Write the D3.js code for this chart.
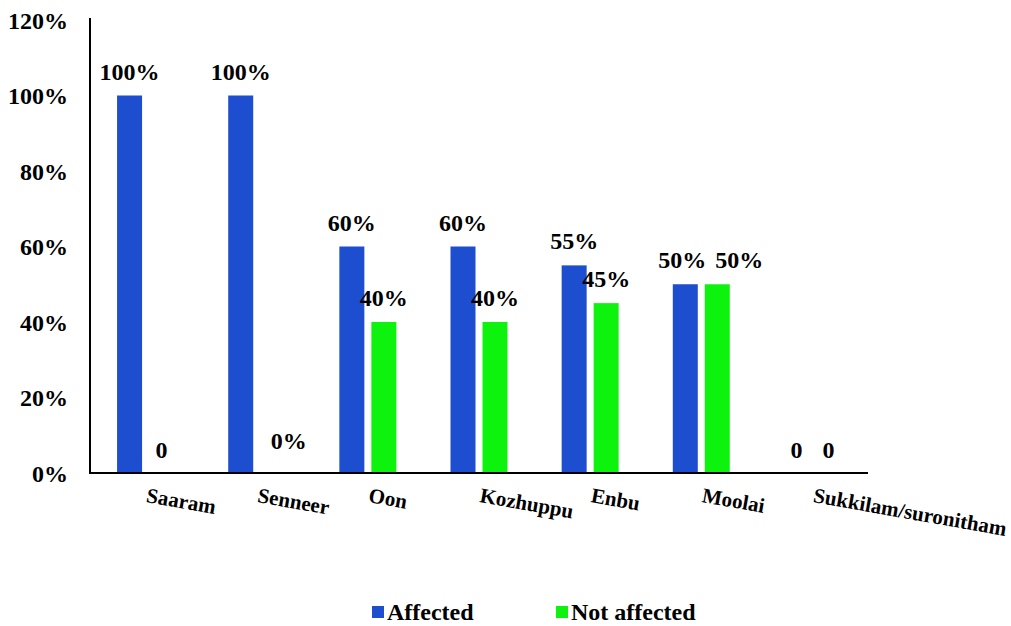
<!DOCTYPE html>
<html>
<head>
<meta charset="utf-8">
<script src="https://cdn.jsdelivr.net/npm/d3@7"></script>
<style>
  body { margin: 0; background: #fff; }
  svg { display: block; }
</style>
</head>
<body>
<svg id="chart" width="1011" height="626"></svg>
<script>
// Data
const categories = ["Saaram", "Senneer", "Oon", "Kozhuppu", "Enbu", "Moolai", "Sukkilam/suronitham"];
const seriesNames = ["Affected", "Not affected"];
const affected = [100, 100, 60, 60, 55, 50, 0];
const notAffected = [0, 0, 40, 40, 45, 50, 0];
const affectedLabels = ["100%", "100%", "60%", "60%", "55%", "50%", "0"];
const notAffectedLabels = ["0", "0%", "40%", "40%", "45%", "50%", "0"];
const yTicks = [0, 20, 40, 60, 80, 100, 120];
const colors = ["#1d4ecf", "#0ef30e"];

const FONT = "'Liberation Serif', 'DejaVu Serif', 'Times New Roman', serif";

const svg = d3.select("#chart");
const margin = { left: 90, right: 143, top: 20, bottom: 153 };
const W = 1011, H = 626;

const x = d3.scaleBand().domain(categories).range([margin.left, W - margin.right]).padding(0);
const y = d3.scaleLinear().domain([0, 120]).range([H - margin.bottom, margin.top]);

const barW = 25, gap = 7;
const series = [
  { name: seriesNames[0], values: affected, labels: affectedLabels, color: colors[0], offset: -(barW + gap) / 2, side: -1 },
  { name: seriesNames[1], values: notAffected, labels: notAffectedLabels, color: colors[1], offset: (barW + gap) / 2, side: 1 }
];

// Labels of two equal non-zero bars would collide; push them apart
const spread = (i) => (affected[i] === notAffected[i] && affected[i] > 0) ? 1 : 0;
// A "0%" label sits to the right of its (empty) bar, raised a little
const isZeroPct = (lbl) => lbl === "0%";

series.forEach(s => {
  // Bars
  svg.append("g").selectAll("rect")
    .data(categories)
    .join("rect")
    .attr("x", (c) => x(c) + x.bandwidth() / 2 + s.offset - barW / 2)
    .attr("width", barW)
    .attr("y", (c, i) => y(s.values[i]))
    .attr("height", (c, i) => y(0) - y(s.values[i]))
    .attr("fill", s.color);

  // Value labels
  svg.append("g").selectAll("text")
    .data(categories)
    .join("text")
    .attr("x", (c, i) => x(c) + x.bandwidth() / 2 + s.offset
      + spread(i) * (s.side > 0 ? 22 : -3) + (isZeroPct(s.labels[i]) ? -2 : 0))
    .attr("y", (c, i) => y(s.values[i]) - (s.values[i] === 0 ? (isZeroPct(s.labels[i]) ? 24 : 15) : 16))
    .attr("text-anchor", (c, i) => isZeroPct(s.labels[i]) ? "start" : "middle")
    .attr("font-family", FONT)
    .attr("font-weight", "bold")
    .attr("font-size", 24)
    .attr("fill", "#000")
    .text((c, i) => s.labels[i]);
});

// Y axis
const yAxis = svg.append("g")
  .attr("transform", `translate(${margin.left},0)`)
  .call(d3.axisLeft(y).tickValues(yTicks).tickSize(0).tickPadding(22).tickFormat(d => d + "%"));
yAxis.select(".domain").attr("stroke", "#000").attr("stroke-width", 2)
  .attr("d", `M0,${margin.top - 2}V${y(0)}`);
yAxis.selectAll("text")
  .attr("font-family", FONT)
  .attr("font-weight", "bold")
  .attr("font-size", 24)
  .attr("fill", "#000")
  .attr("dy", "0.35em");
yAxis.attr("font-family", FONT).attr("font-size", 24);

// X axis
const xAxis = svg.append("g")
  .attr("transform", `translate(0,${y(0)})`)
  .call(d3.axisBottom(x).tickSize(0).tickFormat(""));
xAxis.select(".domain").attr("stroke", "#000").attr("stroke-width", 2)
  .attr("d", `M${margin.left - 1},0H${W - margin.right}`);

// Category labels, slightly rotated
svg.append("g").selectAll("text")
  .data(categories)
  .join("text")
  .attr("transform", c => `translate(${x(c) + x.bandwidth() / 2},${y(0) + 29}) rotate(10)`)
  .attr("text-anchor", "start")
  .attr("font-family", FONT)
  .attr("font-weight", "bold")
  .attr("font-size", 21)
  .attr("fill", "#000")
  .text(c => c);

// Legend
const legendX = [372, 556];
const legend = svg.append("g");
series.forEach((s, i) => {
  legend.append("rect")
    .attr("x", legendX[i]).attr("y", 606)
    .attr("width", 12).attr("height", 12)
    .attr("fill", s.color);
  legend.append("text")
    .attr("x", legendX[i] + 15).attr("y", 620)
    .attr("font-family", FONT)
    .attr("font-weight", "bold")
    .attr("font-size", 24)
    .attr("fill", "#000")
    .text(s.name);
});
</script>
</body>
</html>
